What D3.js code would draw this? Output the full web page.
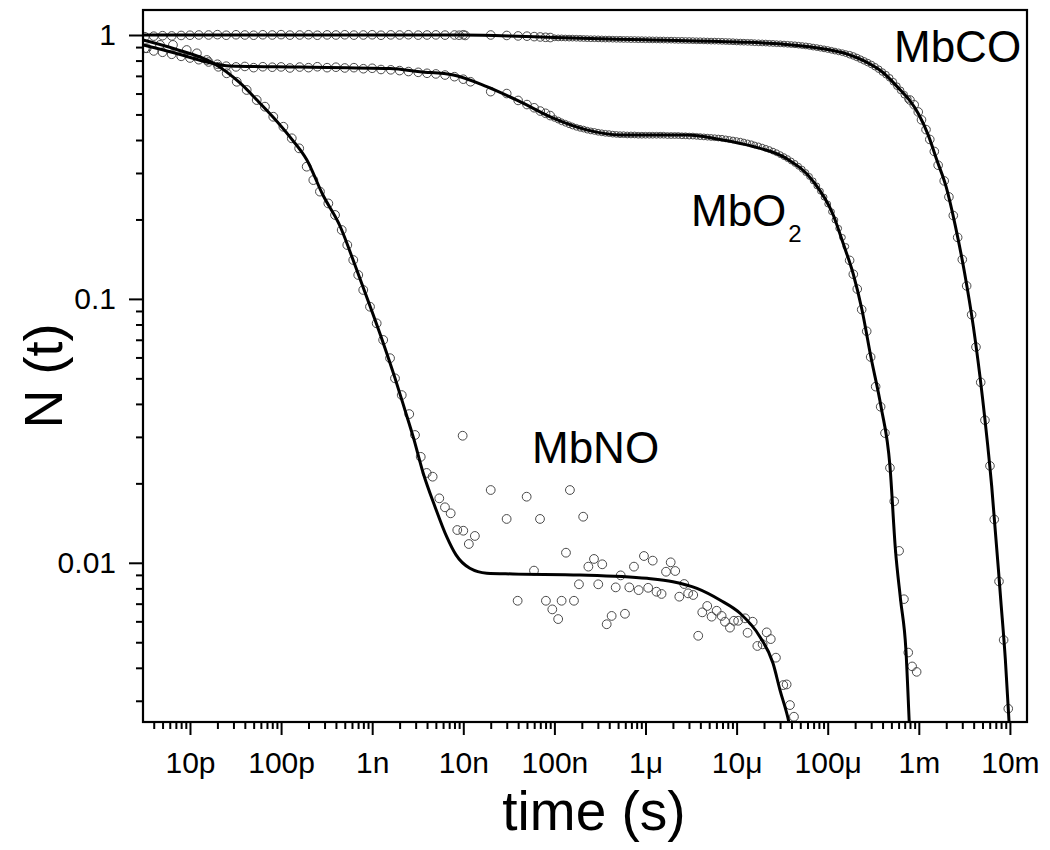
<!DOCTYPE html>
<html><head><meta charset="utf-8">
<script src="https://cdn.jsdelivr.net/npm/d3@7"></script>
<style>
body{margin:0;background:#fff;}
svg text{font-family:"Liberation Sans",Arial,Helvetica,sans-serif;fill:#000;}
</style></head><body>
<svg id="chart" width="1050" height="850"></svg>
<script>
// ---------------- DATA (time in s, N(t)) ----------------
const xTickValues = [1e-11,1e-10,1e-9,1e-8,1e-7,1e-6,1e-5,1e-4,1e-3,1e-2];
const xTickLabels = ["10p","100p","1n","10n","100n","1\u03bc","10\u03bc","100\u03bc","1m","10m"];
const yTickValues = [0.01,0.1,1];
const yTickLabels = ["0.01","0.1","1"];

// shared time grid of the dense (late) recordings
const lateTimes = [
1.00e-7,1.10e-7,1.20e-7,1.32e-7,1.45e-7,1.58e-7,1.74e-7,1.91e-7,2.09e-7,2.29e-7,2.51e-7,2.75e-7,3.02e-7,3.31e-7,3.63e-7,3.98e-7,4.37e-7,4.79e-7,5.25e-7,5.75e-7,6.31e-7,6.92e-7,7.59e-7,8.32e-7,9.12e-7,
1.00e-6,1.10e-6,1.20e-6,1.32e-6,1.45e-6,1.58e-6,1.74e-6,1.91e-6,2.09e-6,2.29e-6,2.51e-6,2.75e-6,3.02e-6,3.31e-6,3.63e-6,3.98e-6,4.37e-6,4.79e-6,5.25e-6,5.75e-6,6.31e-6,6.92e-6,7.59e-6,8.32e-6,9.12e-6,
1.00e-5,1.10e-5,1.20e-5,1.32e-5,1.45e-5,1.58e-5,1.74e-5,1.91e-5,2.09e-5,2.29e-5,2.51e-5,2.75e-5,3.02e-5,3.31e-5,3.63e-5,3.98e-5,4.37e-5,4.79e-5,5.25e-5,5.75e-5,6.31e-5,6.92e-5,7.59e-5,8.32e-5,9.12e-5,
1.00e-4,1.10e-4,1.20e-4,1.32e-4,1.45e-4,1.58e-4];

const mbcoLateN = [
0.976,0.975,0.975,0.974,0.973,0.973,0.972,0.971,0.970,0.969,0.968,0.968,0.967,0.966,0.965,0.965,0.964,0.963,0.963,0.962,0.962,0.961,0.961,0.960,0.960,
0.959,0.959,0.958,0.958,0.957,0.957,0.956,0.956,0.955,0.954,0.954,0.953,0.953,0.952,0.951,0.951,0.950,0.949,0.948,0.948,0.947,0.946,0.945,0.944,0.943,
0.941,0.940,0.939,0.938,0.937,0.935,0.934,0.933,0.932,0.930,0.929,0.927,0.926,0.924,0.922,0.920,0.918,0.915,0.912,0.909,0.905,0.900,0.896,0.891,0.886,
0.881,0.875,0.869,0.863,0.857,0.850];

const mbo2LateN = [
0.483,0.476,0.469,0.463,0.457,0.452,0.447,0.443,0.440,0.436,0.433,0.431,0.428,0.426,0.424,0.423,0.421,0.420,0.419,0.419,0.418,0.418,0.418,0.417,0.417,
0.417,0.417,0.417,0.417,0.417,0.417,0.416,0.416,0.416,0.416,0.415,0.415,0.414,0.414,0.413,0.412,0.411,0.410,0.409,0.408,0.407,0.406,0.404,0.402,0.400,
0.398,0.396,0.393,0.390,0.387,0.383,0.380,0.376,0.372,0.368,0.363,0.358,0.352,0.346,0.340,0.333,0.326,0.318,0.310,0.301,0.291,0.280,0.268,0.256,0.243,
0.229,0.214,0.199,0.185,0.171,0.158];

const mbcoDenseExtra = [[1.74e-4,0.842],[1.91e-4,0.833],[2.09e-4,0.822],[2.29e-4,0.810],[2.51e-4,0.798],[2.75e-4,0.786],[3.02e-4,0.773],[3.31e-4,0.758],[3.63e-4,0.742],[3.98e-4,0.724],[4.37e-4,0.707],[4.79e-4,0.688],[5.25e-4,0.665],[5.75e-4,0.640],[6.31e-4,0.617],[6.92e-4,0.594],[7.59e-4,0.572]];

const mbcoPoints = [[3.2e-12,0.985],[4e-12,0.99],[5e-12,0.994],[6.3e-12,0.992],[8e-12,0.996],[1e-11,0.998],[1.25e-11,1.0],[1.6e-11,1.0],[2e-11,1.003],[2.5e-11,0.998],[3.2e-11,1.002],[4e-11,1.0],[5e-11,0.998],[6.3e-11,1.002],[8e-11,1.0],[1e-10,1.003],[1.25e-10,0.999],[1.6e-10,1.0],[2e-10,1.002],[2.5e-10,0.998],[3.2e-10,1.001],[4e-10,1.0],[5e-10,1.002],[6.3e-10,0.999],[8e-10,1.0],[1e-9,1.002],[1.25e-9,0.998],[1.6e-9,1.001],[2e-9,1.0],[2.5e-9,1.002],[3.2e-9,0.999],[4e-9,1.0],[5e-9,1.001],[6.3e-9,0.999],[8e-9,1.0],[9e-9,0.998],[1e-8,1.002],[1.05e-8,0.996],
[2e-8,1.0],[3e-8,0.996],[4e-8,0.992],[5e-8,0.99],[6e-8,0.986],[7e-8,0.983],[8e-8,0.98],[9e-8,0.978],
[8.0e-4,0.567],[8.9e-4,0.544],[9.86e-4,0.511],[1.07e-3,0.477],[1.2e-3,0.438],[1.32e-3,0.402],[1.48e-3,0.362],[1.63e-3,0.321],[1.90e-3,0.280],[2.14e-3,0.2435],[2.39e-3,0.207],[2.67e-3,0.171],[3.00e-3,0.141],[3.35e-3,0.112],[3.80e-3,0.0871],[4.24e-3,0.0657],[4.78e-3,0.0483],[5.32e-3,0.0347],[6.04e-3,0.0233],[6.73e-3,0.0146],[7.59e-3,0.0085],[8.53e-3,0.0051],[9.59e-3,0.0028]];

const mbo2Points = [[3.2e-12,0.89],[4e-12,0.87],[5e-12,0.86],[6.3e-12,0.845],[8e-12,0.83],[1e-11,0.818],[1.25e-11,0.806],[1.6e-11,0.79],[2e-11,0.775],[2.5e-11,0.762],[3.2e-11,0.757],[4e-11,0.76],[5e-11,0.752],[6.3e-11,0.758],[8e-11,0.755],[1e-10,0.757],[1.25e-10,0.75],[1.6e-10,0.756],[2e-10,0.752],[2.5e-10,0.758],[3.2e-10,0.752],[4e-10,0.755],[5e-10,0.75],[6.3e-10,0.752],[8e-10,0.745],[1e-9,0.748],[1.25e-9,0.74],[1.6e-9,0.738],[2e-9,0.733],[2.5e-9,0.727],[3.2e-9,0.722],[4e-9,0.716],[5e-9,0.712],[6.3e-9,0.705],[8e-9,0.695],[1e-8,0.68],[1.2e-8,0.665],
[2e-8,0.61],[3e-8,0.60],[4e-8,0.565],[5e-8,0.545],[6e-8,0.53],[7e-8,0.515],[8e-8,0.505],[9e-8,0.495],
[1.74e-4,0.140],[1.91e-4,0.124],[2.11e-4,0.109],[2.36e-4,0.0911],[2.68e-4,0.0754],[2.96e-4,0.0602],[3.36e-4,0.0465],[3.81e-4,0.0390],[4.25e-4,0.0310],[4.82e-4,0.0229],[5.37e-4,0.0171],[6.08e-4,0.0111],[6.87e-4,0.00728],[7.66e-4,0.00457],[8.45e-4,0.00405],[9.47e-4,0.00386]];

const mbnoPoints = [[3.35e-12,0.891],[4.69e-12,0.917],[6.50e-12,0.917],[9.20e-12,0.877],[1.19e-11,0.852],[1.53e-11,0.804],[2.05e-11,0.758],[2.53e-11,0.716],[3.26e-11,0.665],[4.19e-11,0.619],[5.40e-11,0.567],[6.65e-11,0.535],[8.21e-11,0.490],[1.06e-10,0.449],[1.31e-10,0.406],[1.58e-10,0.372],[1.91e-10,0.317],[2.26e-10,0.282],[2.67e-10,0.255],[3.30e-10,0.230],[3.91e-10,0.208],[4.63e-10,0.1824],[5.33e-10,0.1600],[6.20e-10,0.1404],[7.03e-10,0.1232],[7.98e-10,0.1081],[9.46e-10,0.0934],[1.12e-9,0.0808],[1.32e-9,0.0699],[1.57e-9,0.0596],[1.78e-9,0.0500],[2.11e-9,0.0432],[2.55e-9,0.0366],[2.95e-9,0.0305],[3.41e-9,0.0252],[3.96e-9,0.0219],[4.61e-9,0.0212],[5.45e-9,0.01755],[6.29e-9,0.01623],[7.27e-9,0.01540],[8.59e-9,0.01331],[9.84e-9,0.0303],[1.00e-8,0.01323],[1.15e-8,0.01178],[1.34e-8,0.01264],[2.00e-8,0.01887],[2.99e-8,0.01466],[3.95e-8,0.00718],[4.96e-8,0.01780],[5.97e-8,0.00934],[6.95e-8,0.01466],[8.07e-8,0.00718],[9.48e-8,0.00666],[1.10e-7,0.00612],[1.20e-7,0.00718],[1.34e-7,0.01092],[1.48e-7,0.01887],[1.64e-7,0.00718],[1.86e-7,0.00829],[2.07e-7,0.01495],[2.36e-7,0.00967],[2.72e-7,0.01034],[3.03e-7,0.00829],[3.35e-7,0.00987],[3.75e-7,0.00585],[4.25e-7,0.00629],[4.71e-7,0.00807],[5.34e-7,0.00896],[5.95e-7,0.00641],[6.64e-7,0.00807],[7.47e-7,0.00967],[8.41e-7,0.00788],[9.62e-7,0.01061],[1.07e-6,0.00804],[1.20e-6,0.01019],[1.32e-6,0.00777],[1.50e-6,0.00762],[1.68e-6,0.00925],[1.89e-6,0.01004],[2.12e-6,0.00931],[2.35e-6,0.00744],[2.66e-6,0.00831],[2.94e-6,0.00766],[3.34e-6,0.00755],[3.79e-6,0.00529],[4.20e-6,0.00649],[4.76e-6,0.00686],[5.32e-6,0.00625],[6.04e-6,0.00658],[6.85e-6,0.00629],[7.45e-6,0.00598],[8.45e-6,0.00568],[9.35e-6,0.00603],[1.04e-5,0.00603],[1.24e-5,0.00616],[1.32e-5,0.00543],[1.50e-5,0.00598],[1.69e-5,0.00484],[1.93e-5,0.00491],[2.14e-5,0.00545],[2.37e-5,0.00514],[2.70e-5,0.00437],[3.25e-5,0.00344],[3.54e-5,0.00346],[3.85e-5,0.00289],[4.26e-5,0.00261]];

// fitted curves
const mbcoFit = [[3.05e-12,1.0],[1e-8,0.999],[3.16e-8,0.992],[1e-7,0.978],[1e-6,0.959],[1e-5,0.941],[3.16e-5,0.924],[1e-4,0.881],[1.58e-4,0.850],[2.51e-4,0.798],[3.98e-4,0.724],[6.31e-4,0.617],[7.94e-4,0.565],[1e-3,0.50],[1.26e-3,0.42],[1.58e-3,0.335],[2e-3,0.265],[2.51e-3,0.19],[3.16e-3,0.127],[3.98e-3,0.078],[5.01e-3,0.042],[6.31e-3,0.0195],[7.94e-3,0.0072],[8.91e-3,0.0043],[1e-2,0.0022]];
const mbo2Fit = [[3.05e-12,0.917],[6.84e-12,0.855],[1.54e-11,0.790],[2.75e-11,0.763],[1.61e-10,0.756],[1.57e-9,0.746],[3.34e-9,0.726],[7.76e-9,0.705],[1.81e-8,0.637],[4.19e-8,0.559],[9.72e-8,0.484],[2.26e-7,0.437],[5.25e-7,0.418],[2.83e-6,0.418],[6.56e-6,0.402],[1.52e-5,0.378],[3.54e-5,0.340],[6.93e-5,0.279],[1.15e-4,0.208],[1.48e-4,0.162],[1.91e-4,0.124],[2.38e-4,0.0908],[2.98e-4,0.0602],[3.85e-4,0.0390],[4.82e-4,0.0233],[5.54e-4,0.0112],[6.31e-4,0.00723],[7.22e-4,0.00467],[7.85e-4,0.00249],[8.2e-4,0.00177]];
const mbnoFit = [[3.05e-12,0.957],[6.84e-12,0.885],[1.79e-11,0.783],[3.54e-11,0.658],[5.43e-11,0.567],[8.15e-11,0.489],[1.25e-10,0.411],[1.92e-10,0.336],[2.88e-10,0.2475],[4.43e-10,0.1889],[6.47e-10,0.1344],[9.46e-10,0.0940],[1.31e-9,0.0687],[1.78e-9,0.0501],[2.29e-9,0.0379],[2.82e-9,0.0300],[3.64e-9,0.0218],[4.89e-9,0.01632],[6.57e-9,0.01256],[8.32e-9,0.01071],[1.18e-8,0.00953],[1.81e-8,0.00913],[3.51e-8,0.00907],[1.91e-7,0.00899],[1.04e-6,0.00873],[2.00e-6,0.00848],[3.67e-6,0.00800],[6.56e-6,0.00723],[1.09e-5,0.00644],[1.80e-5,0.00525],[2.51e-5,0.00416],[2.99e-5,0.00330],[3.75e-5,0.00249],[3.98e-5,0.00225]];

// ---------------- DRAWING ----------------
const X0=143, X1=1027, Y0=10, Y1=722;
const FONT = '"Liberation Sans", Arial, Helvetica, sans-serif';
const svg = d3.select('#chart');
const x = d3.scaleLog().domain([3.05e-12, 1.54e-2]).range([X0, X1]);
const y = d3.scaleLog().domain([0.002493, 1.2437]).range([Y1, Y0]);

svg.append('rect').attr('width',1050).attr('height',850).attr('fill','#fff');
svg.append('defs').append('clipPath').attr('id','clip')
  .append('rect').attr('x',X0).attr('y',Y0).attr('width',X1-X0).attr('height',Y1-Y0);
const plot = svg.append('g').attr('clip-path','url(#clip)');

function dots(data, r){
  plot.append('g').selectAll('circle').data(data).join('circle')
    .attr('cx', d => x(d[0])).attr('cy', d => y(d[1])).attr('r', r)
    .attr('fill','none').attr('stroke','#4a4a4a').attr('stroke-width',1);
}
const zip = (ts, ns) => ts.map((t,i) => [t, ns[i]]);
dots(zip(lateTimes, mbcoLateN), 2.9);
dots(zip(lateTimes, mbo2LateN), 2.9);
dots(mbcoDenseExtra, 3.3);
dots(mbcoPoints, 4.3);
dots(mbo2Points, 4.3);
dots(mbnoPoints, 4.4);

const line = d3.line().x(d => x(d[0])).y(d => y(d[1])).curve(d3.curveMonotoneX);
[mbcoFit, mbo2Fit, mbnoFit].forEach(f => {
  plot.append('path').attr('d', line(f)).attr('fill','none')
    .attr('stroke','#000').attr('stroke-width',3).attr('stroke-linejoin','round');
});

// axes
const xMinor = [], yMinor = [];
for (let k=-12;k<=-2;k++) for (let m=2;m<=9;m++){ const v=m*Math.pow(10,k); if (v>x.domain()[0] && v<x.domain()[1]) xMinor.push(v); }
for (let k=-3;k<=0;k++) for (let m=2;m<=9;m++){ const v=m*Math.pow(10,k); if (v>y.domain()[0] && v<y.domain()[1]) yMinor.push(v); }

function styleAxis(g){
  g.select('.domain').remove();
  g.selectAll('line').attr('stroke','#000').attr('stroke-width',2);
  g.attr('font-family', FONT).attr('font-size', 30);
  g.selectAll('text').attr('fill','#000');
}
svg.append('g').attr('transform',`translate(0,${Y1})`)
  .call(d3.axisBottom(x).tickValues(xMinor).tickSize(7).tickFormat('')).call(styleAxis);
svg.append('g').attr('transform',`translate(0,${Y1})`)
  .call(d3.axisBottom(x).tickValues(xTickValues).tickSize(13).tickPadding(17)
    .tickFormat((d,i) => xTickLabels[i])).call(styleAxis);
svg.append('g').attr('transform',`translate(${X0},0)`)
  .call(d3.axisLeft(y).tickValues(yMinor).tickSize(7).tickFormat('')).call(styleAxis);
svg.append('g').attr('transform',`translate(${X0},0)`)
  .call(d3.axisLeft(y).tickValues(yTickValues).tickSize(14).tickPadding(13)
    .tickFormat((d,i) => yTickLabels[i])).call(styleAxis);

// frame
svg.append('rect').attr('x',X0).attr('y',Y0).attr('width',X1-X0).attr('height',Y1-Y0)
  .attr('fill','none').attr('stroke','#000').attr('stroke-width',2.2);

// titles
svg.append('text').attr('x',594).attr('y',830).attr('text-anchor','middle')
  .attr('font-size',55).attr('font-family',FONT).text('time (s)');
svg.append('text').attr('transform','translate(62,376) rotate(-90)').attr('text-anchor','middle')
  .attr('font-size',54).attr('font-family',FONT).text('N (t)');

// curve labels
svg.append('text').attr('x',894).attr('y',62).attr('font-size',44).attr('font-family',FONT).text('MbCO');
svg.append('text').attr('x',532).attr('y',463).attr('font-size',44).attr('font-family',FONT).text('MbNO');
const o2 = svg.append('text').attr('x',691).attr('y',226).attr('font-size',44).attr('font-family',FONT);
o2.append('tspan').text('MbO');
o2.append('tspan').attr('font-size',24).attr('dy',16).attr('dx',2).text('2');
</script>
</body></html>
